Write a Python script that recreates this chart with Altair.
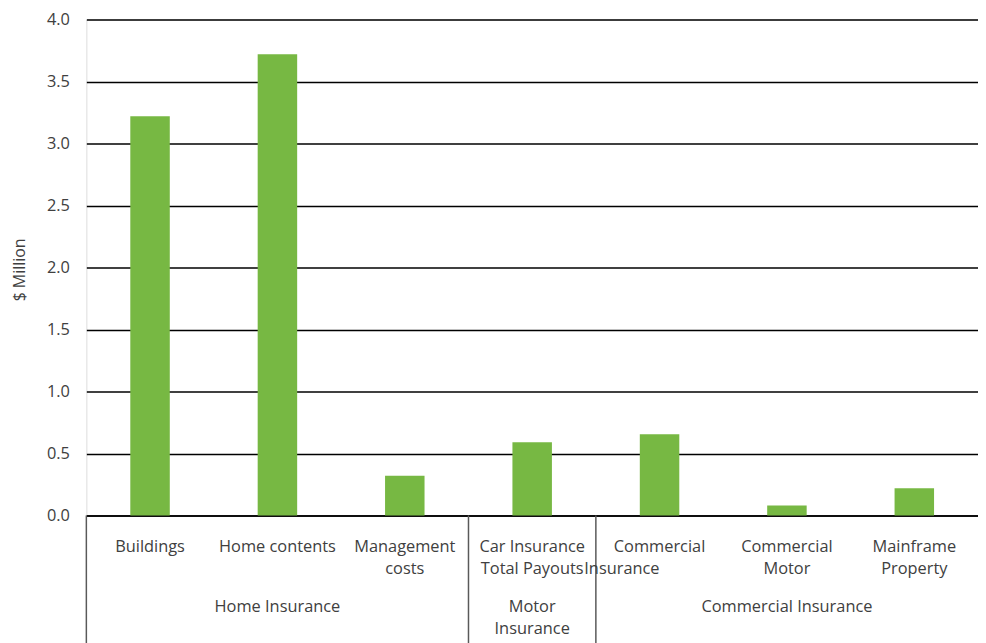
import altair as alt
import pandas as pd

categories = ["Buildings", "Home contents", "Management costs", "Car Insurance Total Payouts",
              "Commercial Insurance", "Commercial Motor", "Mainframe Property"]
label_line1 = ["Buildings", "Home contents", "Management", "Car Insurance",
               "Commercial", "Commercial", "Mainframe"]
label_line2 = ["", "", "costs", "Total Payouts", "Insurance", "Motor", "Property"]
values = [3.22, 3.72, 0.32, 0.59, 0.655, 0.08, 0.22]

group_line1 = ["Home Insurance", "Motor", "Commercial Insurance"]
group_line2 = ["", "Insurance", ""]
group_center = ["Home contents", "Car Insurance Total Payouts", "Commercial Motor"]
group_start = ["Buildings", "Car Insurance Total Payouts", "Commercial Insurance"]

y_ticks = [0, 0.5, 1.0, 1.5, 2.0, 2.5, 3.0, 3.5, 4.0]

bars_df = pd.DataFrame({"category": categories, "value": values,
                        "line1": label_line1, "line2": label_line2})
groups_df = pd.DataFrame({"center": group_center, "line1": group_line1, "line2": group_line2})
sep_df = pd.DataFrame({"category": group_start})

FONT = "Open Sans"
TXT = "#404040"
FS = 16.5
W, H = 899, 500

xscale = alt.Scale(domain=categories, paddingInner=0, paddingOuter=0)

bars = alt.Chart(bars_df).mark_bar(color="#77b843", width=alt.RelativeBandSize(0.31)).encode(
    x=alt.X("category:N", scale=xscale, sort=categories,
            axis=alt.Axis(labels=False, ticks=False, title=None, domain=True,
                          domainColor="#000000", domainWidth=1.5)),
    y=alt.Y("value:Q", scale=alt.Scale(domain=[0, 4]),
            axis=alt.Axis(values=y_ticks, format=".1f", grid=True, gridColor="#000000",
                          gridWidth=1.5, domain=False, ticks=False, labelPadding=17,
                          labelFontSize=FS, labelColor=TXT, labelFont=FONT,
                          title="$ Million", titleFont=FONT, titleFontSize=16,
                          titleFontWeight="normal", titleColor=TXT, titleAngle=-90,
                          titleX=-67, titleY=252, titleAlign="center",
                          titleBaseline="middle")),
)

sub1 = alt.Chart(bars_df).mark_text(font=FONT, fontSize=FS, color=TXT, baseline="middle").encode(
    x=alt.X("category:N", scale=xscale, sort=categories), y=alt.value(532), text="line1:N")

sub2_centered = alt.Chart(bars_df).transform_filter(
    "datum.category != 'Commercial Insurance'").mark_text(
    font=FONT, fontSize=FS, color=TXT, baseline="middle").encode(
    x=alt.X("category:N", scale=xscale, sort=categories), y=alt.value(554), text="line2:N")

sub2_right = alt.Chart(bars_df).transform_filter(
    "datum.category == 'Commercial Insurance'").mark_text(
    font=FONT, fontSize=FS, color=TXT, baseline="middle", align="right").encode(
    x=alt.X("category:N", scale=xscale, sort=categories), y=alt.value(554), text="line2:N")

grp1 = alt.Chart(groups_df).mark_text(font=FONT, fontSize=FS, color=TXT, baseline="middle").encode(
    x=alt.X("center:N", scale=xscale, sort=categories), y=alt.value(592), text="line1:N")
grp2 = alt.Chart(groups_df).mark_text(font=FONT, fontSize=FS, color=TXT, baseline="middle").encode(
    x=alt.X("center:N", scale=xscale, sort=categories), y=alt.value(615), text="line2:N")

seps = alt.Chart(sep_df).mark_rule(color="#595959", strokeWidth=1.5).encode(
    x=alt.X("category:N", scale=xscale, sort=categories, bandPosition=0),
    y=alt.value(H), y2=alt.value(H + 140))

chart = alt.layer(bars, seps, sub1, sub2_centered, sub2_right, grp1, grp2).properties(
    width=W, height=H,
    autosize=alt.AutoSizeParams(type="none"),
    padding={"left": 79, "top": 9, "right": 0, "bottom": 128},
).configure_view(stroke=None).configure(background="#ffffff")

chart.save("out.html", embed_options={"renderer": "svg", "actions": False})
